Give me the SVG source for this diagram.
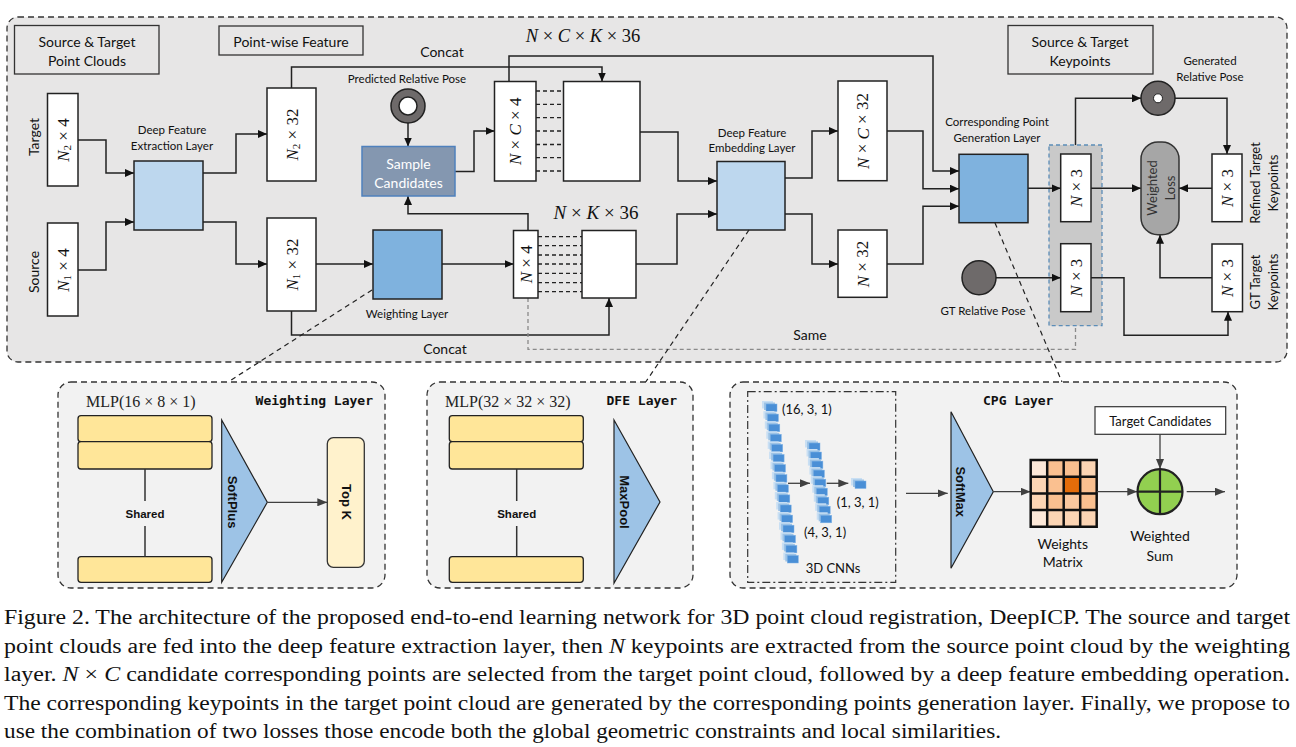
<svg xmlns="http://www.w3.org/2000/svg" width="1296" height="747" viewBox="0 0 1296 747">
<defs>
<marker id="ah" markerUnits="userSpaceOnUse" markerWidth="9" markerHeight="8" refX="9" refY="4" orient="auto"><path d="M0,0 L9,4 L0,8 z" fill="#111"/></marker>
<marker id="ahg" markerUnits="userSpaceOnUse" markerWidth="9" markerHeight="8" refX="9" refY="4" orient="auto"><path d="M0,0 L9,4 L0,8 z" fill="#8a8a8a"/></marker>
<marker id="ahd" markerUnits="userSpaceOnUse" markerWidth="10" markerHeight="8" refX="10" refY="4" orient="auto"><path d="M0,0 L10,4 L0,8 z" fill="#404040"/></marker>
<g id="cube">
<rect x="0" y="0" width="11" height="7.5" fill="#c9dff3"/>
<rect x="2" y="1.5" width="11" height="7.5" fill="#9dc3e6"/>
<rect x="4" y="3" width="11" height="7.5" fill="#4a8fd6" stroke="#7fb2e6" stroke-width="0.5"/>
</g>
</defs>
<style>
.lbl{font-family:Lato,"Open Sans",sans-serif;fill:#111;text-anchor:middle;dominant-baseline:central}
.s14{font-size:14px}
.s11{font-size:11.5px}
.s13{font-size:13px}
.math{font-family:"Liberation Serif","DejaVu Serif",serif;font-size:17px;fill:#111;text-anchor:middle;dominant-baseline:central}
.it{font-style:italic}
.box{fill:#fff;stroke:#222;stroke-width:1.5}
.tag{fill:none;stroke:#333;stroke-width:1.3}
.conn{fill:none;stroke:#222;stroke-width:1.5}
.dsh{fill:none;stroke:#222;stroke-width:1.2;stroke-dasharray:5,4}
.bar{fill:#ffe699;stroke:#222;stroke-width:1.3}
.tri{fill:#9dc3e6;stroke:#222;stroke-width:1.2}
.bold{font-family:"Liberation Sans",Arial,sans-serif;font-weight:bold;fill:#111;text-anchor:middle;dominant-baseline:central}
.title{font-family:"DejaVu Sans Mono","Liberation Mono",monospace;font-weight:bold;font-size:13px;fill:#111}
.mlp{font-family:"Liberation Serif",serif;font-size:16px;fill:#222}
.cap{font-family:"Liberation Serif","Times New Roman",serif;font-size:20px;fill:#111}
.panel{fill:#f2f2f2;stroke:#333;stroke-width:1.3;stroke-dasharray:6,4}
</style>

<!-- outer panel -->
<rect x="7" y="17" width="1280" height="345" rx="11" fill="#e7e6e6" stroke="#333" stroke-width="1.3" stroke-dasharray="6,4"/>

<g id="tag-clouds"><rect class="tag" x="14.5" y="25.5" width="144.5" height="48.5"/><text class="lbl s14" x="87" y="41">Source &amp; Target</text><text class="lbl s14" x="87" y="60">Point Clouds</text></g>
<g id="tag-pointwise"><rect class="tag" x="219" y="26" width="144" height="29"/><text class="lbl s14" x="291" y="41">Point-wise Feature</text></g>
<g id="tag-keypoints"><rect class="tag" x="1008" y="25.5" width="145" height="48.5"/><text class="lbl s14" x="1080" y="41">Source &amp; Target</text><text class="lbl s14" x="1080" y="60">Keypoints</text></g>

<g id="labels">
<text class="lbl s14" x="442" y="51">Concat</text>
<text class="lbl s14" x="445" y="348">Concat</text>
<text class="lbl s14" x="810" y="334">Same</text>
<text class="lbl s14" transform="translate(33,137) rotate(-90)">Target</text>
<text class="lbl s14" transform="translate(33,272) rotate(-90)">Source</text>
<text class="math it" x="583" y="36" font-size="18.5" style="font-size:18.5px">N <tspan font-style="normal">×</tspan> C <tspan font-style="normal">×</tspan> K <tspan font-style="normal">× 36</tspan></text>
<text class="math it" x="596" y="212" style="font-size:19px">N <tspan font-style="normal">×</tspan> K <tspan font-style="normal">× 36</tspan></text>
</g>

<!-- connectors -->
<g id="connectors">
<path class="conn" marker-end="url(#ah)" d="M78,140 H106 V173 H134"/>
<path class="conn" marker-end="url(#ah)" d="M78,270 H106 V222 H134"/>
<path class="conn" marker-end="url(#ah)" d="M203,173 H236 V134 H267"/>
<path class="conn" marker-end="url(#ah)" d="M203,222 H236 V264 H267"/>
<path class="conn" marker-end="url(#ah)" d="M291.5,88 V67 H602 V81.5"/>
<path class="conn" marker-end="url(#ah)" d="M408,123 V146.5"/>
<path class="conn" marker-end="url(#ah)" d="M455,171.5 H474 V131 H494.5"/>
<path class="conn" marker-end="url(#ah)" d="M509,81.5 V56 H933 V171 H959"/>
<path class="conn" marker-end="url(#ah)" d="M640,132 H678 V181 H717"/>
<path class="conn" marker-end="url(#ah)" d="M528,230.5 V213.7 H408 V196"/>
<path class="conn" marker-end="url(#ah)" d="M316,264 H373"/>
<path class="conn" marker-end="url(#ah)" d="M442,264 H513.5"/>
<path class="conn" marker-end="url(#ah)" d="M291.5,311 V335 H609 V298"/>
<path class="conn" marker-end="url(#ah)" d="M636,264 H677 V214 H717"/>
<path class="conn" marker-end="url(#ah)" d="M785,178 H812 V131 H838"/>
<path class="conn" marker-end="url(#ah)" d="M785,214 H812 V264 H838"/>
<path class="conn" marker-end="url(#ah)" d="M887,131 H923 V188.7 H959"/>
<path class="conn" marker-end="url(#ah)" d="M887,264 H923 V206.3 H959"/>
<path fill="none" stroke="#8a8a8a" stroke-width="1.3" stroke-dasharray="4,3" marker-end="url(#ahg)" d="M528,298 V349.3 H1075.5 V312"/>
</g>

<!-- nodes left -->
<g id="in-target"><rect class="box" x="47.5" y="93.5" width="30.5" height="92.5"/><text class="math" transform="translate(63,140) rotate(-90)"><tspan class="it">N</tspan><tspan dy="4" font-size="11">2</tspan><tspan dy="-4"> × 4</tspan></text></g>
<g id="in-source"><rect class="box" x="47.5" y="223" width="30.5" height="93"/><text class="math" transform="translate(63,270) rotate(-90)"><tspan class="it">N</tspan><tspan dy="4" font-size="11">1</tspan><tspan dy="-4"> × 4</tspan></text></g>
<g id="dfe"><rect x="134" y="161" width="69" height="69" fill="#bdd7ee" stroke="#222" stroke-width="1.5"/><text class="lbl s11" x="172" y="129">Deep Feature</text><text class="lbl s11" x="172" y="145">Extraction Layer</text></g>
<g id="feat-target"><rect class="box" x="267" y="88" width="49" height="93"/><text class="math" transform="translate(291.5,134.5) rotate(-90)"><tspan class="it">N</tspan><tspan dy="4" font-size="11">2</tspan><tspan dy="-4"> × 32</tspan></text></g>
<g id="feat-source"><rect class="box" x="267" y="218" width="49" height="93"/><text class="math" transform="translate(291.5,264.5) rotate(-90)"><tspan class="it">N</tspan><tspan dy="4" font-size="11">1</tspan><tspan dy="-4"> × 32</tspan></text></g>
<g id="pred-pose"><text class="lbl s11" x="407" y="78">Predicted Relative Pose</text><circle cx="408" cy="106" r="17" fill="#6e6a6a" stroke="#222" stroke-width="1.5"/><circle cx="408" cy="106" r="9" fill="#fff" stroke="#222" stroke-width="1.5"/></g>
<g id="sample"><rect x="362" y="146.5" width="93" height="49.5" fill="#8497b0" stroke="#4f81bd" stroke-width="1.5"/><text class="lbl s14" x="408.5" y="163" style="fill:#fff">Sample</text><text class="lbl s14" x="408.5" y="182" style="fill:#fff">Candidates</text></g>
<g id="weighting"><rect x="373" y="230" width="69" height="69" fill="#7fb2de" stroke="#222" stroke-width="1.5"/><text class="lbl s11" x="407" y="313">Weighting Layer</text></g>

<!-- candidates -->
<g id="nc4"><rect class="box" x="494.5" y="81.5" width="41.5" height="99.5"/><text class="math" transform="translate(515,131.3) rotate(-90)"><tspan class="it">N</tspan> × <tspan class="it">C</tspan> × 4</text>
<g stroke="#222" stroke-width="1.3" stroke-dasharray="4,3"><path d="M536,91 H563.5 M536,104.3 H563.5 M536,117.7 H563.5 M536,131 H563.5 M536,144.5 H563.5 M536,157.7 H563.5 M536,171 H563.5"/></g>
<rect class="box" x="563.5" y="81.5" width="76.5" height="99.5"/></g>
<g id="nk4"><rect class="box" x="513.5" y="230.5" width="24.5" height="67.5"/><text class="math" transform="translate(526,264.3) rotate(-90)"><tspan class="it">N</tspan> × 4</text>
<g stroke="#222" stroke-width="1.3" stroke-dasharray="4,3"><path d="M538,236.7 H582 M538,245.7 H582 M538,255 H582 M538,264 H582 M538,273.3 H582 M538,282.7 H582 M538,291.7 H582"/></g>
<rect class="box" x="582" y="230.5" width="54" height="67.5"/></g>

<g id="dfemb"><rect x="717" y="161.5" width="68" height="68.5" fill="#bdd7ee" stroke="#222" stroke-width="1.5"/><text class="lbl s11" x="752" y="132">Deep Feature</text><text class="lbl s11" x="752" y="147.5">Embedding Layer</text></g>
<g id="nc32"><rect class="box" x="838" y="81" width="49" height="99.7"/><text class="math" transform="translate(862.5,131) rotate(-90)"><tspan class="it">N</tspan> × <tspan class="it">C</tspan> × 32</text></g>
<g id="n32"><rect class="box" x="838" y="230" width="49" height="67.3"/><text class="math" transform="translate(862.5,264) rotate(-90)"><tspan class="it">N</tspan> × 32</text></g>
<g id="cpg"><rect x="959" y="154.3" width="69" height="68.4" fill="#7fb2de" stroke="#222" stroke-width="1.5"/><text class="lbl s11" x="997" y="121">Corresponding Point</text><text class="lbl s11" x="997" y="137">Generation Layer</text></g>

<g id="keypoints"><rect x="1049" y="145" width="53" height="180.7" fill="#c9c9c9" stroke="#5b8db8" stroke-width="1.3" stroke-dasharray="4,3"/>
<rect class="box" x="1060.7" y="154" width="30.3" height="67.7"/><text class="math" transform="translate(1076,188) rotate(-90)"><tspan class="it">N</tspan> × 3</text>
<rect class="box" x="1060.7" y="243.7" width="30.3" height="68"/><text class="math" transform="translate(1076,277.7) rotate(-90)"><tspan class="it">N</tspan> × 3</text></g>

<g id="connectors-right">
<path class="conn" marker-end="url(#ah)" d="M1028,188.3 H1060.7"/>
<path class="conn" marker-end="url(#ah)" d="M1075.5,145 V98.3 H1141"/>
<path class="conn" marker-end="url(#ah)" d="M1175,98.3 H1227 V154"/>
<path class="conn" marker-end="url(#ah)" d="M1091,188.3 H1141"/>
<path class="conn" marker-end="url(#ah)" d="M1212,188.3 H1179"/>
<path class="conn" marker-end="url(#ah)" d="M1212,277.7 H1160 V234.7"/>
<path class="conn" marker-end="url(#ah)" d="M996,277.7 H1060.7"/>
<path class="conn" marker-end="url(#ah)" d="M1091,277.7 H1124 V335.3 H1228 V311.7"/>
</g>

<g id="gen-pose"><text class="lbl s11" x="1210" y="60">Generated</text><text class="lbl s11" x="1210" y="76">Relative Pose</text><circle cx="1158" cy="98.3" r="17" fill="#6e6a6a" stroke="#222" stroke-width="1.5"/><circle cx="1158" cy="98.3" r="4.5" fill="#fff" stroke="#222" stroke-width="1"/></g>
<g id="loss"><rect x="1141" y="142" width="38" height="92.7" rx="17" fill="#a6a6a6" stroke="#333" stroke-width="1.5"/><text class="lbl s13" transform="translate(1151.5,188) rotate(-90)" style="fill:#333">Weighted</text><text class="lbl s13" transform="translate(1169.5,188) rotate(-90)" style="fill:#333">Loss</text></g>
<g id="refined"><rect class="box" x="1212" y="154" width="30" height="67.7"/><text class="math" transform="translate(1227,188) rotate(-90)"><tspan class="it">N</tspan> × 3</text><text class="lbl s13" transform="translate(1255,183) rotate(-90)">Refined Target</text><text class="lbl s13" transform="translate(1273,183) rotate(-90)">Keypoints</text></g>
<g id="gt-target"><rect class="box" x="1212" y="244" width="30.5" height="67.7"/><text class="math" transform="translate(1227,278) rotate(-90)"><tspan class="it">N</tspan> × 3</text><text class="lbl s13" transform="translate(1255,282) rotate(-90)">GT Target</text><text class="lbl s13" transform="translate(1273,282) rotate(-90)">Keypoints</text></g>
<g id="gt-pose"><circle cx="979" cy="277.7" r="17" fill="#6e6a6a" stroke="#222" stroke-width="1.5"/><text class="lbl s11" x="983" y="310">GT Relative Pose</text></g>

<!-- callouts -->
<g id="callouts">
<path class="dsh" d="M372,290 L228,382"/>
<path class="dsh" d="M749,230 L645,383"/>
<path class="dsh" d="M995,223 L1062,382"/>
</g>

<!-- Weighting panel -->
<g id="panel-weighting">
<rect class="panel" x="58" y="382" width="327" height="206" rx="13"/>
<text class="mlp" x="86" y="407">MLP(16 × 8 × 1)</text>
<text class="title" x="373" y="405" text-anchor="end">Weighting Layer</text>
<rect class="bar" x="78" y="415.7" width="134" height="26" rx="3"/>
<rect class="bar" x="78" y="441.7" width="134" height="27.3" rx="3"/>
<rect class="bar" x="78" y="556.7" width="134" height="25.6" rx="3"/>
<path d="M145,469 V501 M145,526 V556.7" stroke="#333" stroke-width="1.5"/>
<text class="bold" x="145" y="513.5" font-size="11.5">Shared</text>
<path class="tri" d="M221.7,420 L267.3,502.3 L221.7,582.3 Z"/>
<text class="bold" font-size="13" transform="translate(232,502) rotate(90)">SoftPlus</text>
<path d="M267.3,502.3 H327.3" stroke="#404040" stroke-width="1.3" marker-end="url(#ahd)"/>
<rect x="327.3" y="437.7" width="37" height="129.6" rx="6" fill="#fff2cc" stroke="#333" stroke-width="1.3"/>
<text class="bold" font-size="13" transform="translate(346,502) rotate(90)">Top K</text>
</g>

<!-- DFE panel -->
<g id="panel-dfe">
<rect class="panel" x="427" y="382" width="266" height="206" rx="13"/>
<text class="mlp" x="445" y="407">MLP(32 × 32 × 32)</text>
<text class="title" x="677" y="405" text-anchor="end">DFE Layer</text>
<rect class="bar" x="449.3" y="415.7" width="134" height="26" rx="3"/>
<rect class="bar" x="449.3" y="441.7" width="134" height="27.3" rx="3"/>
<rect class="bar" x="449.3" y="556.7" width="134" height="25.6" rx="3"/>
<path d="M516.7,469 V501 M516.7,526 V556.7" stroke="#333" stroke-width="1.5"/>
<text class="bold" x="516.7" y="513.5" font-size="11.5">Shared</text>
<path class="tri" d="M614,420 L660,502 L614,583.3 Z"/>
<text class="bold" font-size="13" transform="translate(624,502) rotate(90)">MaxPool</text>
</g>

<!-- CPG panel -->
<g id="panel-cpg">
<rect class="panel" x="730" y="382" width="507" height="206" rx="13"/>
<rect x="747.7" y="391.7" width="148" height="190.6" fill="none" stroke="#333" stroke-width="1.2" stroke-dasharray="8,3,2,3"/>
<g id="cubes">
<use href="#cube" x="762" y="401"/><use href="#cube" x="763.4" y="411.1"/><use href="#cube" x="764.8" y="421.2"/><use href="#cube" x="766.3" y="431.3"/>
<use href="#cube" x="767.7" y="441.4"/><use href="#cube" x="769.1" y="451.5"/><use href="#cube" x="770.5" y="461.6"/><use href="#cube" x="771.9" y="471.7"/>
<use href="#cube" x="773.4" y="481.8"/><use href="#cube" x="774.8" y="491.9"/><use href="#cube" x="776.2" y="502"/><use href="#cube" x="777.6" y="512.1"/>
<use href="#cube" x="779" y="522.2"/><use href="#cube" x="780.5" y="532.3"/><use href="#cube" x="781.9" y="542.4"/><use href="#cube" x="783.3" y="552.5"/>
<use href="#cube" x="805" y="440"/><use href="#cube" x="806.5" y="449"/><use href="#cube" x="807.9" y="458.1"/><use href="#cube" x="809.4" y="467.1"/>
<use href="#cube" x="810.8" y="476.2"/><use href="#cube" x="812.3" y="485.2"/><use href="#cube" x="813.8" y="494.2"/><use href="#cube" x="815.2" y="503.3"/>
<use href="#cube" x="816.7" y="512.3"/>
<use href="#cube" x="851" y="478"/>
</g>
<path d="M788,483.3 H810" stroke="#404040" stroke-width="1.3" marker-end="url(#ahd)"/>
<path d="M826.7,483.3 H848.3" stroke="#404040" stroke-width="1.3" marker-end="url(#ahd)"/>
<text class="lbl s13" x="782" y="409" style="text-anchor:start">(16, 3, 1)</text>
<text class="lbl s13" x="836.7" y="501.7" style="text-anchor:start">(1, 3, 1)</text>
<text class="lbl s13" x="804" y="531.7" style="text-anchor:start">(4, 3, 1)</text>
<text class="lbl s13" x="833" y="568">3D CNNs</text>
<path d="M906,493.3 H947.7" stroke="#404040" stroke-width="1.3" marker-end="url(#ahd)"/>
<path class="tri" d="M951,411.7 L993.3,491.7 L951,568.3 Z"/>
<text class="bold" font-size="13" transform="translate(960,491.7) rotate(90)">SoftMax</text>
<text class="title" x="983" y="405">CPG Layer</text>
<path d="M993.3,491.7 H1030.7" stroke="#404040" stroke-width="1.3" marker-end="url(#ahd)"/>
<g id="matrix">
<rect x="1030.7" y="460" width="16.5" height="16.7" fill="#fde9d9"/><rect x="1047.2" y="460" width="16.5" height="16.7" fill="#fac090"/><rect x="1063.7" y="460" width="16.5" height="16.7" fill="#fac090"/><rect x="1080.2" y="460" width="16.5" height="16.7" fill="#fcd5b4"/>
<rect x="1030.7" y="476.7" width="16.5" height="16.7" fill="#fcd5b4"/><rect x="1047.2" y="476.7" width="16.5" height="16.7" fill="#fac090"/><rect x="1063.7" y="476.7" width="16.5" height="16.7" fill="#e46c0a"/><rect x="1080.2" y="476.7" width="16.5" height="16.7" fill="#fac090"/>
<rect x="1030.7" y="493.4" width="16.5" height="16.7" fill="#fcd5b4"/><rect x="1047.2" y="493.4" width="16.5" height="16.7" fill="#fac090"/><rect x="1063.7" y="493.4" width="16.5" height="16.7" fill="#fbc89e"/><rect x="1080.2" y="493.4" width="16.5" height="16.7" fill="#fac090"/>
<rect x="1030.7" y="510.1" width="16.5" height="16.6" fill="#fde9d9"/><rect x="1047.2" y="510.1" width="16.5" height="16.6" fill="#fcd5b4"/><rect x="1063.7" y="510.1" width="16.5" height="16.6" fill="#fcd5b4"/><rect x="1080.2" y="510.1" width="16.5" height="16.6" fill="#fcd5b4"/>
<path d="M1030.7,460 H1096.7 V526.7 H1030.7 Z M1047.2,460 V526.7 M1063.7,460 V526.7 M1080.2,460 V526.7 M1030.7,476.7 H1096.7 M1030.7,493.4 H1096.7 M1030.7,510.1 H1096.7" fill="none" stroke="#111" stroke-width="2.5"/>
</g>
<text class="lbl s14" x="1062.7" y="543.3">Weights</text>
<text class="lbl s14" x="1062.7" y="561.7">Matrix</text>
<path d="M1096.7,491.7 H1137.3" stroke="#404040" stroke-width="1.3" marker-end="url(#ahd)"/>
<rect x="1095" y="406.7" width="130.7" height="27.6" fill="#fff" stroke="#333" stroke-width="1.2"/>
<text class="lbl s13" x="1160.3" y="420.5">Target Candidates</text>
<path d="M1160,434.3 V469" stroke="#404040" stroke-width="1.3" marker-end="url(#ahd)"/>
<circle cx="1160" cy="491.7" r="22.5" fill="#92d050" stroke="#222" stroke-width="2.2"/>
<path d="M1137.5,491.7 H1182.5 M1160,469.2 V514.2" stroke="#222" stroke-width="2.2"/>
<path d="M1186.7,491.7 H1225" stroke="#404040" stroke-width="1.3" marker-end="url(#ahd)"/>
<text class="lbl s14" x="1160" y="535.7">Weighted</text>
<text class="lbl s14" x="1160" y="555">Sum</text>
</g>

<!-- caption -->
<g id="caption">
<text class="cap" x="4" y="624" textLength="1286" lengthAdjust="spacingAndGlyphs">Figure 2. The architecture of the proposed end-to-end learning network for 3D point cloud registration, DeepICP. The source and target</text>
<text class="cap" x="4" y="652.5" textLength="1286" lengthAdjust="spacingAndGlyphs">point clouds are fed into the deep feature extraction layer, then <tspan font-style="italic">N</tspan> keypoints are extracted from the source point cloud by the weighting</text>
<text class="cap" x="4" y="681" textLength="1286" lengthAdjust="spacingAndGlyphs">layer.  <tspan font-style="italic">N</tspan> × <tspan font-style="italic">C</tspan> candidate corresponding points are selected from the target point cloud, followed by a deep feature embedding operation.</text>
<text class="cap" x="4" y="709.5" textLength="1286" lengthAdjust="spacingAndGlyphs">The corresponding keypoints in the target point cloud are generated by the corresponding points generation layer. Finally, we propose to</text>
<text class="cap" x="4" y="738" textLength="997" lengthAdjust="spacingAndGlyphs">use the combination of two losses those encode both the global geometric constraints and local similarities.</text>
</g>
</svg>
